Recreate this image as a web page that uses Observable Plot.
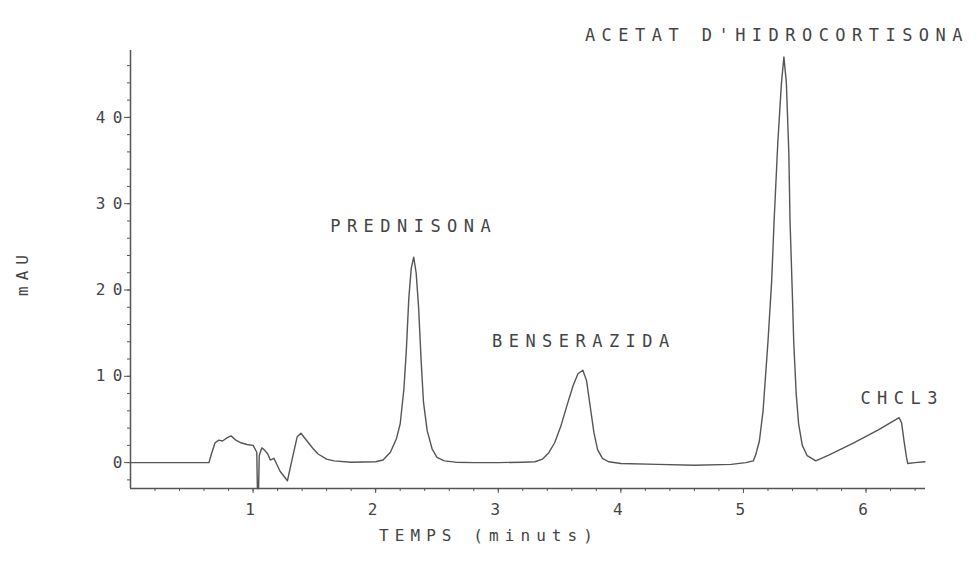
<!DOCTYPE html>
<html>
<head>
<meta charset="utf-8">
<script src="https://cdn.jsdelivr.net/npm/d3@7"></script>
<script src="https://cdn.jsdelivr.net/npm/@observablehq/plot@0.6"></script>
<style>
  html, body { margin: 0; padding: 0; background: #fff; }
  #chart svg text { letter-spacing: 0.38em; }
  #chart svg g[aria-label="y-axis tick label"] text { letter-spacing: 0.45em; }
</style>
</head>
<body>
<div id="chart"></div>
<script>
// Chromatogram trace (time in minutes, absorbance in mAU)
const times = [
  0, 0.64, 0.66, 0.69, 0.72, 0.75, 0.79, 0.82, 0.86, 0.90, 0.95, 1.00, 1.03, 1.035, 1.045, 1.05, 1.07, 1.09, 1.12, 1.14, 1.17, 1.22, 1.28, 1.32, 1.36, 1.39, 1.44, 1.49, 1.53, 1.60, 1.66, 1.80, 2.00,
  2.06, 2.12, 2.17, 2.20, 2.23, 2.25, 2.27, 2.29, 2.31, 2.33, 2.35, 2.37, 2.39, 2.42, 2.46, 2.50, 2.56, 2.65, 2.80, 3.00, 3.20, 3.30,
  3.36, 3.41, 3.46, 3.51, 3.56, 3.61, 3.65, 3.69, 3.72, 3.75, 3.78, 3.81, 3.85, 3.90, 4.00, 4.30, 4.60, 4.90, 5.02,
  5.08, 5.10, 5.13, 5.16, 5.20, 5.23, 5.25, 5.28, 5.31, 5.33, 5.35, 5.37, 5.38, 5.40, 5.41, 5.43, 5.45, 5.48, 5.52, 5.59,
  5.70, 5.90, 6.10, 6.27, 6.29, 6.31, 6.33, 6.34, 6.40, 6.48
];
const signal = [
  0, 0, 1.0, 2.3, 2.6, 2.5, 2.9, 3.1, 2.6, 2.3, 2.1, 2.0, 1.2, -3.0, -3.0, 0.8, 1.7, 1.5, 1.0, 0.3, 0.5, -1.0, -2.1, 0.5, 3.0, 3.4, 2.5, 1.6, 1.0, 0.4, 0.2, 0.05, 0.1,
  0.3, 1.2, 2.8, 4.5, 8.5, 13, 19, 22.5, 23.8, 22, 18, 12, 7, 3.7, 1.6, 0.6, 0.2, 0.05, 0, 0, 0.05, 0.1,
  0.4, 1.1, 2.3, 4.2, 6.6, 8.9, 10.3, 10.7, 9.5, 6.5, 3.5, 1.5, 0.5, 0.1, -0.1, -0.2, -0.3, -0.2, 0,
  0.2, 0.9, 2.5, 6, 14, 21, 28, 37, 44, 47.0, 44, 36, 28, 19, 14, 8, 4.5, 2.0, 0.8, 0.2,
  0.9, 2.3, 3.8, 5.2, 4.6, 2.5, 0.6, -0.1, 0, 0.1
];

// Peak annotations
const peakNames = ["PREDNISONA", "BENSERAZIDA", "ACETAT D'HIDROCORTISONA", "CHCL3"];
const peakTimes = [2.31, 3.69, 5.33, 6.27];
const peakHeights = [23.8, 10.7, 47.0, 5.2];

// Axis ticks and titles
const xTicks = [1, 2, 3, 4, 5, 6];
const yTicks = [0, 10, 20, 30, 40];
const xMinorTicks = d3.range(0.2, 6.41, 0.2);
const yMinorTicks = d3.range(-2, 47, 2);
const xTitle = "TEMPS (minuts)";
const yTitle = "mAU";

const trace = times.map((t, i) => ({t, v: signal[i]}));
const peaks = peakNames.map((name, i) => ({name, t: peakTimes[i], v: peakHeights[i]}));
const labelDx = [0, 1, -7, 3];
const labelDy = [-31, -29, -21.5, -19];

const ink = "#555";
const font = "DejaVu Sans Mono";

const chart = Plot.plot({
  width: 979,
  height: 565,
  marginLeft: 130,
  marginRight: 54,
  marginTop: 50,
  marginBottom: 77,
  style: {fontFamily: font, color: ink, background: "#fff"},
  x: {type: "linear", domain: [0, 6.485]},
  y: {type: "linear", domain: [-3.0, 47.75]},
  marks: [
    Plot.ruleX([0], {stroke: ink, strokeWidth: 1.5}),
    Plot.ruleY([-3.0], {stroke: ink, strokeWidth: 1.5}),
    Plot.axisY(yMinorTicks, {tickSize: 3, tickFormat: () => "", label: null, stroke: ink}),
    Plot.axisY(yTicks, {
      tickSize: 6, tickPadding: -5, fontSize: 16, stroke: ink, fill: "#444",
      tickFormat: d => String(d), label: null
    }),
    Plot.axisX(xMinorTicks, {tickSize: 3, tickFormat: () => "", label: null, stroke: ink}),
    Plot.axisX(xTicks, {
      tickSize: 5, tickPadding: 10, fontSize: 16, stroke: ink, fill: "#444",
      tickFormat: d => String(d), label: null
    }),
    Plot.line(trace, {x: "t", y: "v", stroke: ink, strokeWidth: 1.4, curve: "linear"}),
    ...peaks.map((p, i) => Plot.text([p], {
      x: "t", y: "v", text: "name",
      dx: labelDx[i], dy: labelDy[i],
      fontSize: 17, fill: "#444", lineAnchor: "middle", textAnchor: "middle"
    })),
    Plot.text([xTitle], {
      text: d => d, frameAnchor: "bottom", dx: -39, dy: 47,
      fontSize: 16, fill: "#444", lineAnchor: "middle", textAnchor: "middle"
    }),
    Plot.text([yTitle], {
      text: d => d, frameAnchor: "left", dx: -108, dy: 3, rotate: -90,
      fontSize: 16, fill: "#444", lineAnchor: "middle", textAnchor: "middle"
    })
  ]
});

document.getElementById("chart").appendChild(chart);
</script>
</body>
</html>
